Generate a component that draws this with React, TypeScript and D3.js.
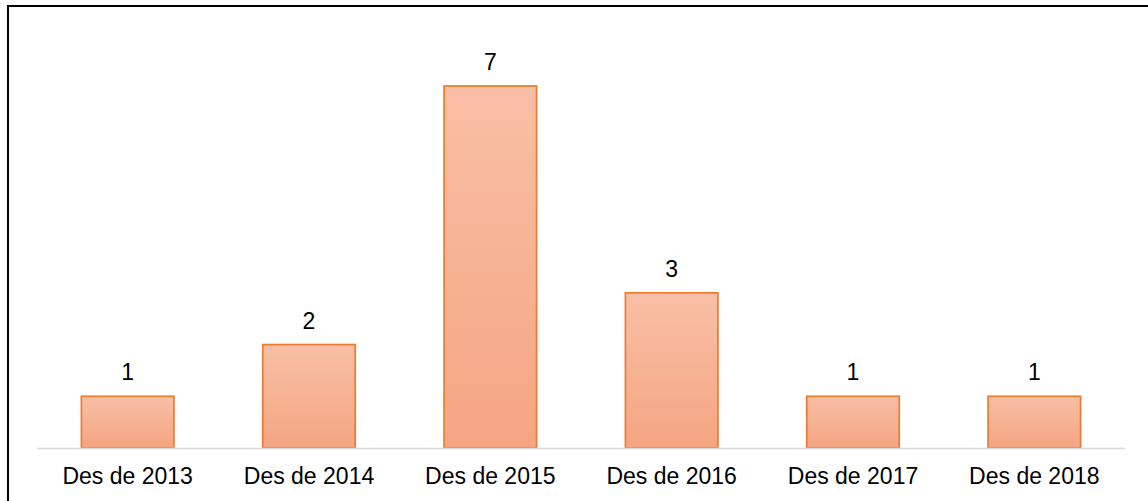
import React from "react";
import * as d3 from "d3";

const categories: string[] = [
  "Des de 2013",
  "Des de 2014",
  "Des de 2015",
  "Des de 2016",
  "Des de 2017",
  "Des de 2018",
];
const values: number[] = [1, 2, 7, 3, 1, 1];

const W = 1148;
const H = 501;
const FONT = "'Liberation Sans', Arial, sans-serif";

export default function App() {
  const x = d3
    .scaleBand<string>()
    .domain(categories)
    .range([37, 1125])
    .paddingInner(0.49)
    .paddingOuter(0.245);
  const y = d3.scaleLinear().domain([0, 7]).range([448, 86]);

  return (
    <svg
      width={W}
      height={H}
      style={{ position: "absolute", left: 0, top: 0, display: "block", background: "#fff" }}
    >
      <defs>
        <linearGradient id="barGrad" x1="0" y1="0" x2="0" y2="1">
          <stop offset="0%" stopColor="#F8BFA6" />
          <stop offset="100%" stopColor="#F5A582" />
        </linearGradient>
      </defs>
      <rect x={0} y={0} width={W} height={H} fill="#fff" />
      {/* outer frame (top & left visible) */}
      <line x1={7} y1={6} x2={W} y2={6} stroke="#000" strokeWidth={2} />
      <line x1={8} y1={5} x2={8} y2={H} stroke="#000" strokeWidth={2} />

      {/* bars */}
      {categories.map((c, i) => (
        <rect
          key={c}
          x={x(c)!}
          y={y(values[i])}
          width={x.bandwidth()}
          height={y(0) - y(values[i])}
          fill="url(#barGrad)"
          stroke="#ED7D31"
          strokeWidth={1.75}
        />
      ))}

      {/* axis line */}
      <line x1={37} y1={y(0) + 0.5} x2={1125} y2={y(0) + 0.5} stroke="#D9D9D9" strokeWidth={1.5} />

      {/* value labels */}
      {categories.map((c, i) => (
        <text
          key={"v" + c}
          x={x(c)! + x.bandwidth() / 2}
          y={y(values[i]) - 16}
          textAnchor="middle"
          fontFamily={FONT}
          fontSize={23}
          fill="#000"
        >
          {values[i]}
        </text>
      ))}

      {/* category labels */}
      {categories.map((c) => (
        <text
          key={"c" + c}
          x={x(c)! + x.bandwidth() / 2}
          y={484}
          textAnchor="middle"
          fontFamily={FONT}
          fontSize={23}
          fill="#000"
        >
          {c}
        </text>
      ))}
    </svg>
  );
}
